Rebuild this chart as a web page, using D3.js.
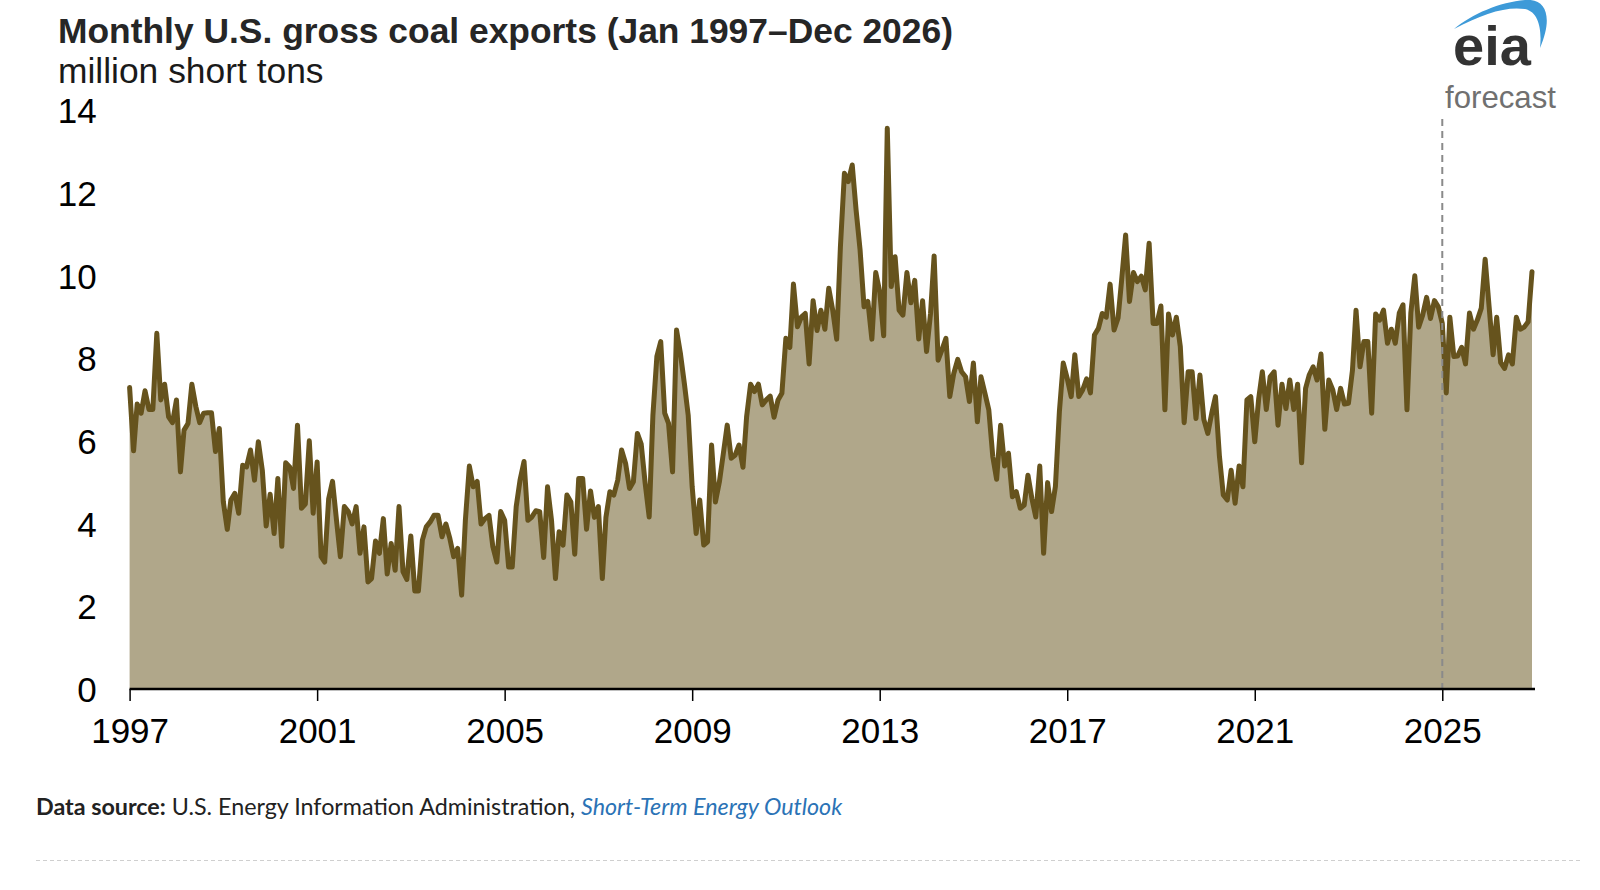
<!DOCTYPE html>
<html>
<head>
<meta charset="utf-8">
<script src="https://cdn.jsdelivr.net/npm/d3@7"></script>
<style>
  html, body { margin: 0; padding: 0; background: #fff; }
  svg { display: block; }
</style>
</head>
<body>
<svg id="chart" width="1600" height="890"></svg>
<script>
// ---- data (million short tons, monthly, Jan 1997 – Dec 2026) ----
const firstYear = 1997;
const lastYear = 2026;
const forecastStart = "2025-01";
const exportsValues = [
  7.29, 5.76, 6.89, 6.67, 7.21, 6.76, 6.76, 8.60, 6.99, 7.37, 6.58, 6.44,   // 1997
  6.99, 5.25, 6.26, 6.42, 7.37, 6.83, 6.44, 6.67, 6.68, 6.68, 5.74, 6.30,   // 1998
  4.53, 3.86, 4.57, 4.73, 4.25, 5.41, 5.37, 5.78, 5.05, 5.98, 5.29, 3.94,   // 1999
  4.71, 3.76, 5.09, 3.45, 5.47, 5.37, 4.85, 6.38, 4.37, 4.47, 6.00, 4.25,   // 2000
  5.49, 3.20, 3.07, 4.60, 5.02, 4.08, 3.20, 4.41, 4.29, 3.99, 4.41, 3.28,   // 2001
  3.92, 2.59, 2.67, 3.58, 3.28, 4.12, 2.78, 3.52, 2.87, 4.41, 2.84, 2.65,   // 2002
  3.70, 2.37, 2.37, 3.60, 3.92, 4.04, 4.20, 4.20, 3.68, 3.99, 3.64, 3.20,   // 2003
  3.40, 2.27, 4.08, 5.39, 4.89, 5.02, 3.99, 4.12, 4.20, 3.44, 3.07, 4.29,   // 2004
  4.08, 2.95, 2.95, 4.41, 5.05, 5.50, 4.08, 4.16, 4.31, 4.29, 3.18, 4.89,   // 2005
  4.08, 2.67, 3.80, 3.48, 4.69, 4.52, 3.26, 5.09, 5.09, 3.86, 4.79, 4.15,   // 2006
  4.41, 2.67, 4.15, 4.77, 4.69, 5.05, 5.78, 5.46, 4.85, 5.01, 6.18, 5.92,   // 2007
  4.97, 4.16, 6.62, 8.04, 8.40, 6.67, 6.42, 5.25, 8.68, 8.12, 7.39, 6.62,   // 2008
  4.89, 3.76, 4.57, 3.48, 3.56, 5.90, 4.52, 5.01, 5.70, 6.38, 5.58, 5.65,   // 2009
  5.90, 5.36, 6.58, 7.37, 7.19, 7.37, 6.87, 6.99, 7.08, 6.57, 6.99, 7.15,   // 2010
  8.48, 8.26, 9.79, 8.76, 8.99, 9.08, 7.86, 9.39, 8.67, 9.16, 8.70, 9.69,   // 2011
  9.16, 8.46, 10.70, 12.47, 12.27, 12.67, 11.58, 10.62, 9.24, 9.37, 8.46, 10.07, // 2012
  9.61, 8.54, 13.56, 9.73, 10.45, 9.16, 9.04, 10.07, 9.34, 9.88, 8.46, 9.39, // 2013
  8.16, 9.08, 10.47, 7.95, 8.20, 8.48, 7.07, 7.63, 7.97, 7.67, 7.55, 6.95,  // 2014
  7.88, 6.46, 7.55, 7.15, 6.75, 5.62, 5.07, 6.38, 5.39, 5.70, 4.65, 4.77,   // 2015
  4.37, 4.45, 5.17, 4.60, 4.16, 5.39, 3.28, 4.99, 4.29, 4.90, 6.71, 7.88,   // 2016
  7.51, 7.07, 8.08, 7.07, 7.23, 7.50, 7.16, 8.56, 8.72, 9.08, 8.99, 9.79,   // 2017
  8.68, 8.97, 9.89, 10.98, 9.37, 10.07, 9.85, 9.98, 9.65, 10.78, 8.84, 8.84, // 2018
  9.26, 6.75, 9.07, 8.56, 8.99, 8.28, 6.44, 7.67, 7.67, 6.54, 7.59, 6.52,   // 2019
  6.18, 6.67, 7.07, 5.62, 4.69, 4.57, 5.29, 4.49, 5.39, 4.89, 6.99, 7.07,   // 2020
  5.98, 7.03, 7.67, 6.76, 7.55, 7.67, 6.38, 7.37, 6.78, 7.47, 6.76, 7.37,   // 2021
  5.47, 7.27, 7.59, 7.79, 7.47, 8.10, 6.28, 7.47, 7.23, 6.76, 7.27, 6.89,   // 2022
  6.91, 7.70, 9.16, 7.79, 8.40, 8.40, 6.67, 9.07, 8.92, 9.16, 8.36, 8.70,   // 2023
  8.36, 9.09, 9.29, 6.75, 9.09, 9.99, 8.75, 9.04, 9.47, 8.96, 9.39, 9.24,   // 2024
  8.84, 7.16, 8.99, 8.04, 8.05, 8.26, 7.86, 9.09, 8.70, 8.92, 9.21, 10.39,  // 2025
  9.24, 8.08, 8.99, 7.89, 7.75, 8.08, 7.86, 8.99, 8.70, 8.75, 8.88, 10.09   // 2026
];
const yTickValues = [0, 2, 4, 6, 8, 10, 12, 14];
const xTickYears = [1997, 2001, 2005, 2009, 2013, 2017, 2021, 2025];
const titleText = "Monthly U.S. gross coal exports (Jan 1997\u2013Dec 2026)";
const unitText = "million short tons";

// ---- build monthly records ----
const records = exportsValues.map((v, i) => ({
  date: new Date(firstYear + Math.floor(i / 12), i % 12, 1),
  value: v
}));

const svg = d3.select("#chart");
const FONT = "'Liberation Sans', Arial, Helvetica, sans-serif";

const x = d3.scaleTime()
  .domain([new Date(firstYear, 0, 1), new Date(lastYear, 11, 1)])
  .range([129.6, 1532]);
const y = d3.scaleLinear().domain([0, 14]).range([689, 110]);

// area + line
const area = d3.area()
  .x(d => x(d.date))
  .y0(y(0))
  .y1(d => y(d.value));
const line = d3.line()
  .x(d => x(d.date))
  .y(d => y(d.value));

svg.append("path")
  .datum(records)
  .attr("d", area)
  .attr("fill", "#b0a78a");

svg.append("path")
  .datum(records)
  .attr("d", line)
  .attr("fill", "none")
  .attr("stroke", "#66531d")
  .attr("stroke-width", 5)
  .attr("stroke-linejoin", "round")
  .attr("stroke-linecap", "round");

// forecast divider
const [fy, fm] = forecastStart.split("-").map(Number);
const fx = x(new Date(fy, fm - 1, 1));
svg.append("line")
  .attr("x1", fx).attr("x2", fx)
  .attr("y1", 119).attr("y2", y(0))
  .attr("stroke", "#8a8a8a")
  .attr("stroke-width", 2)
  .attr("stroke-dasharray", "7,5");

// x axis
const xAxis = d3.axisBottom(x)
  .tickValues(xTickYears.map(yr => new Date(yr, 0, 1)))
  .tickFormat(d3.timeFormat("%Y"))
  .tickSize(12)
  .tickSizeOuter(0)
  .tickPadding(17);
const gx = svg.append("g")
  .attr("transform", `translate(0,${y(0)})`)
  .call(xAxis);
gx.select(".domain")
  .attr("stroke", "#000")
  .attr("stroke-width", 2.6)
  .attr("d", `M${x.range()[0]},0H${x.range()[1] + 3}`);
gx.selectAll(".tick line").attr("stroke", "#000").attr("stroke-width", 1.5);
gx.selectAll(".tick text")
  .attr("font-family", FONT)
  .attr("font-size", 35)
  .attr("fill", "#000")
  .attr("dy", "0.71em");

// y axis
const yAxis = d3.axisLeft(y)
  .tickValues(yTickValues)
  .tickSize(0)
  .tickPadding(33);
const gy = svg.append("g")
  .attr("transform", `translate(${x.range()[0]},0)`)
  .call(yAxis);
gy.select(".domain").remove();
gy.selectAll(".tick text")
  .attr("font-family", FONT)
  .attr("font-size", 35)
  .attr("fill", "#000")
  .attr("dy", "0.36em");

// titles
svg.append("text")
  .attr("x", 58).attr("y", 43)
  .attr("font-family", FONT)
  .attr("font-weight", "bold")
  .attr("font-size", 35.4)
  .attr("fill", "#262626")
  .text(titleText);
svg.append("text")
  .attr("x", 58).attr("y", 83)
  .attr("font-family", FONT)
  .attr("font-size", 35.4)
  .attr("fill", "#1a1a1a")
  .text(unitText);

// eia logo
svg.append("path")
  .attr("d", "M1454,29 C1472,14 1500,2 1525,0 C1547,-2 1553,18 1540,48 C1542,30 1539,12 1525,9 C1506,6 1482,14 1454,29 Z")
  .attr("fill", "#3d9ad8");
svg.append("text")
  .attr("x", 1453).attr("y", 65)
  .attr("font-family", FONT)
  .attr("font-weight", "bold")
  .attr("font-size", 56)
  .attr("fill", "#333333")
  .text("eia");
svg.append("text")
  .attr("x", 1445).attr("y", 108)
  .attr("font-family", FONT)
  .attr("font-size", 31.2)
  .attr("fill", "#707070")
  .text("forecast");

// footer
const foot = svg.append("text")
  .attr("x", 36).attr("y", 815)
  .attr("font-family", "Lato, 'Open Sans', sans-serif")
  .attr("font-size", 22)
  .attr("fill", "#222");
foot.append("tspan").attr("font-weight", "bold").text("Data source:");
foot.append("tspan").text(" U.S. Energy Information Administration, ");
foot.append("tspan").attr("font-style", "italic").attr("fill", "#2b73b6").text("Short-Term Energy Outlook");
const fw = foot.node().getComputedTextLength();
foot.attr("font-size", 22 * 807 / fw);

svg.append("line")
  .attr("x1", 36).attr("x2", 1580)
  .attr("y1", 860.5).attr("y2", 860.5)
  .attr("stroke", "#cfcfcf")
  .attr("stroke-width", 1)
  .attr("stroke-dasharray", "4,3");
</script>
</body>
</html>
